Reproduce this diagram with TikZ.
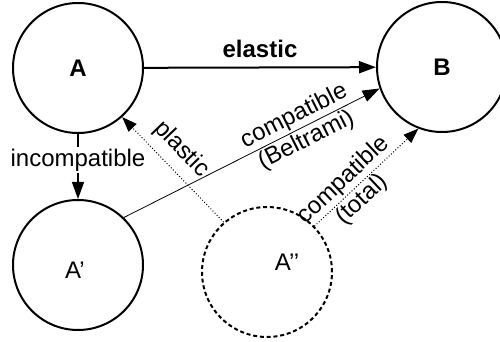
\documentclass[tikz,border=0pt]{standalone}
\usepackage{fontspec}
\setmainfont{Liberation Sans}
\usetikzlibrary{arrows.meta}

\newcommand{\schrift}{\fontsize{12}{13.5}\selectfont}
\tikzset{
	state/.style={circle,draw=black,line width=1pt,minimum size=65pt,inner sep=0pt,font=\schrift\bfseries},
	statedash/.style={state,dash pattern=on 2pt off 1.4pt},
	pfeil/.style={-{Triangle[length=8.5pt,width=6pt]},black},
	pfeildot/.style={-{Triangle[length=7.5pt,width=5.5pt]},black,line width=0.5pt,densely dotted}
}

\begin{document}
\begin{tikzpicture}[x=0.5pt,y=-0.5pt,font=\schrift]
%Rahmen
\useasboundingbox (0,0) rectangle (500,342);
\node[state] (a) at (78,68) {A};
\node[state] (b) at (442,67) {B};
\node[state] (a1) at (78,265) {};
\node at (75,270) {A’};
\node[statedash] (a2) at (267,272) {};
\node at (287,262) {A’’};
%Pfeile
\draw [pfeil,line width=1pt] (a) -- node[above=1pt,font=\schrift\bfseries]{elastic} (b);
\draw [pfeil,line width=0.6pt] (a) -- node[pos=0.4,fill=white,inner sep=1pt]{incompatible} (a1);
\draw [pfeil,line width=0.4pt] (a1.46) -- node[pos=0.69,sloped,align=center]{compatible\\(Beltrami)} (b.199);
\draw [pfeildot] (a2.131) -- node[pos=0.56,sloped,above=1pt]{plastic} (a.-48);
\draw [pfeildot] (a2.44) -- node[pos=0.37,sloped,align=center]{compatible\\(total)} (b.249);
\end{tikzpicture}
\end{document}
